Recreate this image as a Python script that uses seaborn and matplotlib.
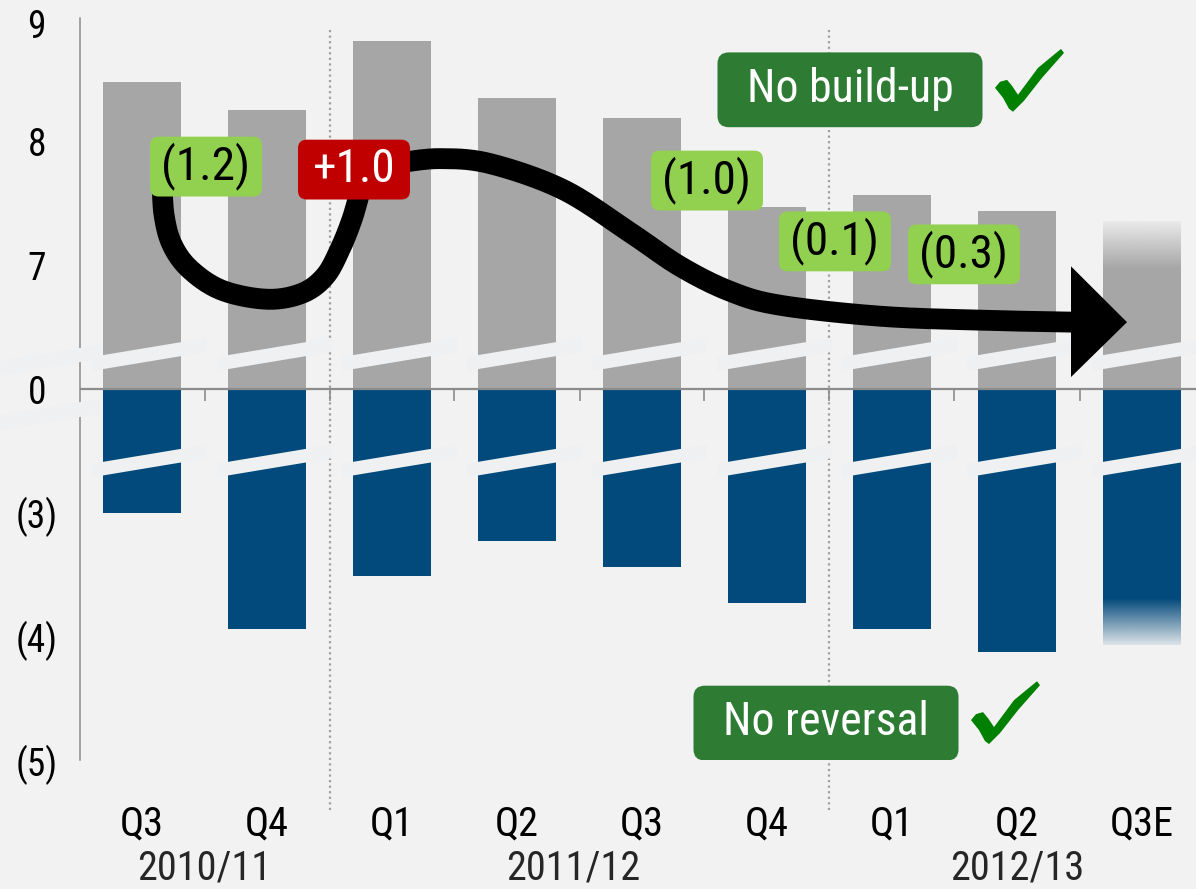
import numpy as np
import pandas as pd
import matplotlib
matplotlib.use("Agg")
import matplotlib.pyplot as plt
import seaborn as sns
from matplotlib import font_manager as fm
from matplotlib.patches import FancyBboxPatch, Polygon
from matplotlib.transforms import ScaledTranslation

# ---------------- data ----------------
quarters = ["Q3", "Q4", "Q1", "Q2", "Q3", "Q4", "Q1", "Q2", "Q3E"]
years = ["2010/11", "2011/12", "2012/13"]
year_x = [0.5, 3.45, 7.0]
gray_values = [8.48, 8.26, 8.81, 8.35, 8.19, 7.47, 7.57, 7.44, 7.36]
blue_values = [-3.00, -3.94, -3.51, -3.23, -3.44, -3.73, -3.94, -4.13, -4.07]
ytick_values = [9, 8, 7, 0, -3, -4, -5]
ytick_labels = ["9", "8", "7", "0", "(3)", "(4)", "(5)"]
change_labels = ["(1.2)", "+1.0", "(1.0)", "(0.1)", "(0.3)"]
separators = [1.5, 5.5]

# broken axis mapping: 6..9 -> 0..3 ; -2..-5 -> 0..-3
def disp(v):
    v = np.asarray(v, float)
    return np.where(v > 0, v - 6.0, np.where(v < 0, v + 2.0, 0.0))

# ---------------- style ----------------
BG = "#f2f2f2"
GRAY = "#a6a6a6"
BLUE = "#024a7b"
LGREEN = "#92d050"
RED = "#c00000"
DGREEN = "#2e7b34"
CHECK = "#008000"
AXC = "#8c8c8c"

sns.set_style("white", {"axes.facecolor": BG, "figure.facecolor": BG})
names = {f.name for f in fm.fontManager.ttflist}
FONT = "DejaVu Sans"
for cand in ["Roboto Condensed", "Liberation Sans Narrow", "Open Sans Condensed", "Roboto"]:
    if cand in names:
        FONT = cand
        break
plt.rcParams["font.family"] = [FONT, "DejaVu Sans"]

W, H = 1196, 889
fig = plt.figure(figsize=(W / 100, H / 100), dpi=100)
ax = fig.add_axes([80 / W, (H - 760) / H, 1 - 80 / W, (760 - 18) / H])

def px2d(px, py):
    return ((np.asarray(px, float) - 142) / 125.0, (390 - np.asarray(py, float)) / 124.0)

idx = list(range(len(quarters)))
df = pd.DataFrame({"idx": idx, "gray": disp(gray_values), "blue": disp(blue_values)})
BW = 0.624
sns.barplot(data=df, x="idx", y="gray", color=GRAY, width=BW, saturation=1, ax=ax,
            linewidth=0, zorder=2)
sns.barplot(data=df, x="idx", y="blue", color=BLUE, width=BW, saturation=1, ax=ax,
            linewidth=0, zorder=2)

# fading for estimate bar
last = len(idx) - 1
l, r = last - BW / 2, last + BW / 2
bgc = matplotlib.colors.to_rgb(BG)
n = 64
top = float(disp(gray_values[-1]))
arr = np.zeros((n, 1, 4)); arr[..., :3] = bgc; arr[:, 0, 3] = np.linspace(0.92, 0, n)
ax.imshow(arr, extent=[l, r, top - 0.39, top], aspect="auto", zorder=2.6, interpolation="bilinear")
bot = float(disp(blue_values[-1]))
arr2 = np.zeros((n, 1, 4)); arr2[..., :3] = bgc; arr2[:, 0, 3] = np.linspace(0, 0.92, n)
ax.imshow(arr2, extent=[l, r, bot, bot + 0.38], aspect="auto", zorder=2.6, interpolation="bilinear")

# break bands
BANDC = "#eef0f2"
slope = 0.168
def band(x0, x1, yref_x, yref, thick):
    y0 = yref + slope * (x0 - yref_x)
    y1 = yref + slope * (x1 - yref_x)
    ax.add_patch(Polygon([(x0, y0), (x1, y1), (x1, y1 - thick), (x0, y0 - thick)],
                         closed=True, facecolor=BANDC, edgecolor="none", zorder=3, clip_on=False))
for i in idx:
    band(i - 0.40, i + 0.52, i - BW / 2, 0.274, 0.113)
    band(i - 0.40, i + 0.52, i - BW / 2, -0.589, 0.11)
band(-1.14, -0.34, -0.496, 0.331, 0.113)
band(-1.14, -0.34, -0.496, -0.105, 0.121)

# zero line and boundary ticks
ax.axhline(0, color=AXC, lw=1.6, zorder=2.8)
ax.vlines([i + 0.5 for i in idx[:-1]], -12 / 124, 0, color=AXC, lw=1.2, zorder=2.8)

# dotted separators
ax.vlines(separators, (390 - 812) / 124, (390 - 27) / 124, color="#a0a0a0", lw=1.6,
          linestyles=(0, (1, 1.5)), zorder=1.5, clip_on=False)

# arrow path
def catmull(pts, n=24):
    pts = np.asarray(pts, float)
    P = np.vstack([pts[0], pts, pts[-1]])
    out = []
    for i in range(1, len(P) - 2):
        p0, p1, p2, p3 = P[i - 1], P[i], P[i + 1], P[i + 2]
        t = np.linspace(0, 1, n, endpoint=False)[:, None]
        out.append(0.5 * ((2 * p1) + (-p0 + p2) * t + (2 * p0 - 5 * p1 + 4 * p2 - p3) * t ** 2
                          + (-p0 + 3 * p1 - 3 * p2 + p3) * t ** 3))
    out.append(pts[-1:])
    return np.vstack(out)

path1 = catmull([(162, 180), (164, 215), (172, 245), (190, 270), (222, 291), (267, 300),
                 (302, 294), (325, 277), (340, 250), (352, 220), (360, 192)])
path2 = catmull([(400, 163), (440, 159), (490, 164), (563, 190), (630, 233), (680, 267),
                 (730, 292), (780, 306), (880, 317), (980, 321), (1075, 323)])
for p in (path1, path2):
    xs, ys = px2d(p[:, 0], p[:, 1])
    ax.plot(xs, ys, color="black", lw=15, solid_capstyle="butt", zorder=4)
hx, hy = px2d([1071, 1127, 1071], [267, 323, 378])
ax.add_patch(Polygon(np.c_[hx, hy], closed=True, facecolor="black", edgecolor="none", zorder=4))

# change labels
centers = [(206, 167), (354, 170), (707, 181), (835, 242), (964, 255)]
for lab, (cx, cy) in zip(change_labels, centers):
    x, y = px2d(cx, cy)
    red = lab.startswith("+")
    w, h = 112 / 125, 60 / 124
    ax.add_patch(FancyBboxPatch((x - w / 2, y - h / 2), w, h,
                                boxstyle="round,pad=0,rounding_size=0.07",
                                facecolor=RED if red else LGREEN, edgecolor="none", zorder=5))
    ax.text(x, y + 0.005, lab, ha="center", va="center", fontsize=34,
            color="white" if red else "black", zorder=6)

# message boxes with checks
def check(ox, oy):
    pts = np.array([(995, 88), (1000, 82), (1007, 80), (1012, 86), (1018, 95), (1038, 68),
                    (1061, 49), (1064, 53), (1042, 78), (1024, 101), (1013, 112), (1009, 109),
                    (1003, 98)], float)
    pts[:, 0] += ox; pts[:, 1] += oy
    xs, ys = px2d(pts[:, 0], pts[:, 1])
    ax.add_patch(Polygon(np.c_[xs, ys], closed=True, facecolor=CHECK, edgecolor="none",
                         zorder=6, clip_on=False))

for txt, (cx, cy), (ox, oy) in [("No build-up", (850, 90), (0, 0)),
                                ("No reversal", (826, 725), (-24, 634))]:
    x, y = px2d(cx, cy)
    w, h = 265 / 125, 75 / 124
    ax.add_patch(FancyBboxPatch((x - w / 2, y - h / 2), w, h,
                                boxstyle="round,pad=0,rounding_size=0.09",
                                facecolor=DGREEN, edgecolor="none", zorder=5))
    ax.text(x, y + 0.005, txt, ha="center", va="center", fontsize=33, color="white", zorder=6)
    check(ox, oy)

# axes
ax.set_yticks(disp(ytick_values))
ax.set_yticklabels(ytick_labels, fontsize=27, ha="center")
ax.tick_params(axis="y", length=7.2, width=1.1, color=AXC, pad=24, labelcolor="black")
ax.set_xticks(idx)
ax.set_xticklabels(quarters, fontsize=29, va="baseline")
ax.tick_params(axis="x", length=0, pad=54, labelcolor="black")
lbl9 = ax.get_yticklabels()[0]
lbl9.set_transform(lbl9.get_transform() + ScaledTranslation(0, -0.06, fig.dpi_scale_trans))

for yl, yx in zip(years, year_x):
    ax.text(yx, (390 - 882) / 124, yl, ha="center", va="baseline", fontsize=29, clip_on=False)

for s in ["top", "right", "bottom"]:
    ax.spines[s].set_visible(False)
ax.spines["left"].set_color(AXC)
ax.spines["left"].set_linewidth(1.1)
ax.spines["left"].set_zorder(2.7)
ax.set_xlabel(""); ax.set_ylabel("")
ax.set_xlim(-0.496, (W - 142) / 125)
ax.set_ylim(-3, 3)

fig.savefig("out.png", dpi=100, facecolor=BG)
